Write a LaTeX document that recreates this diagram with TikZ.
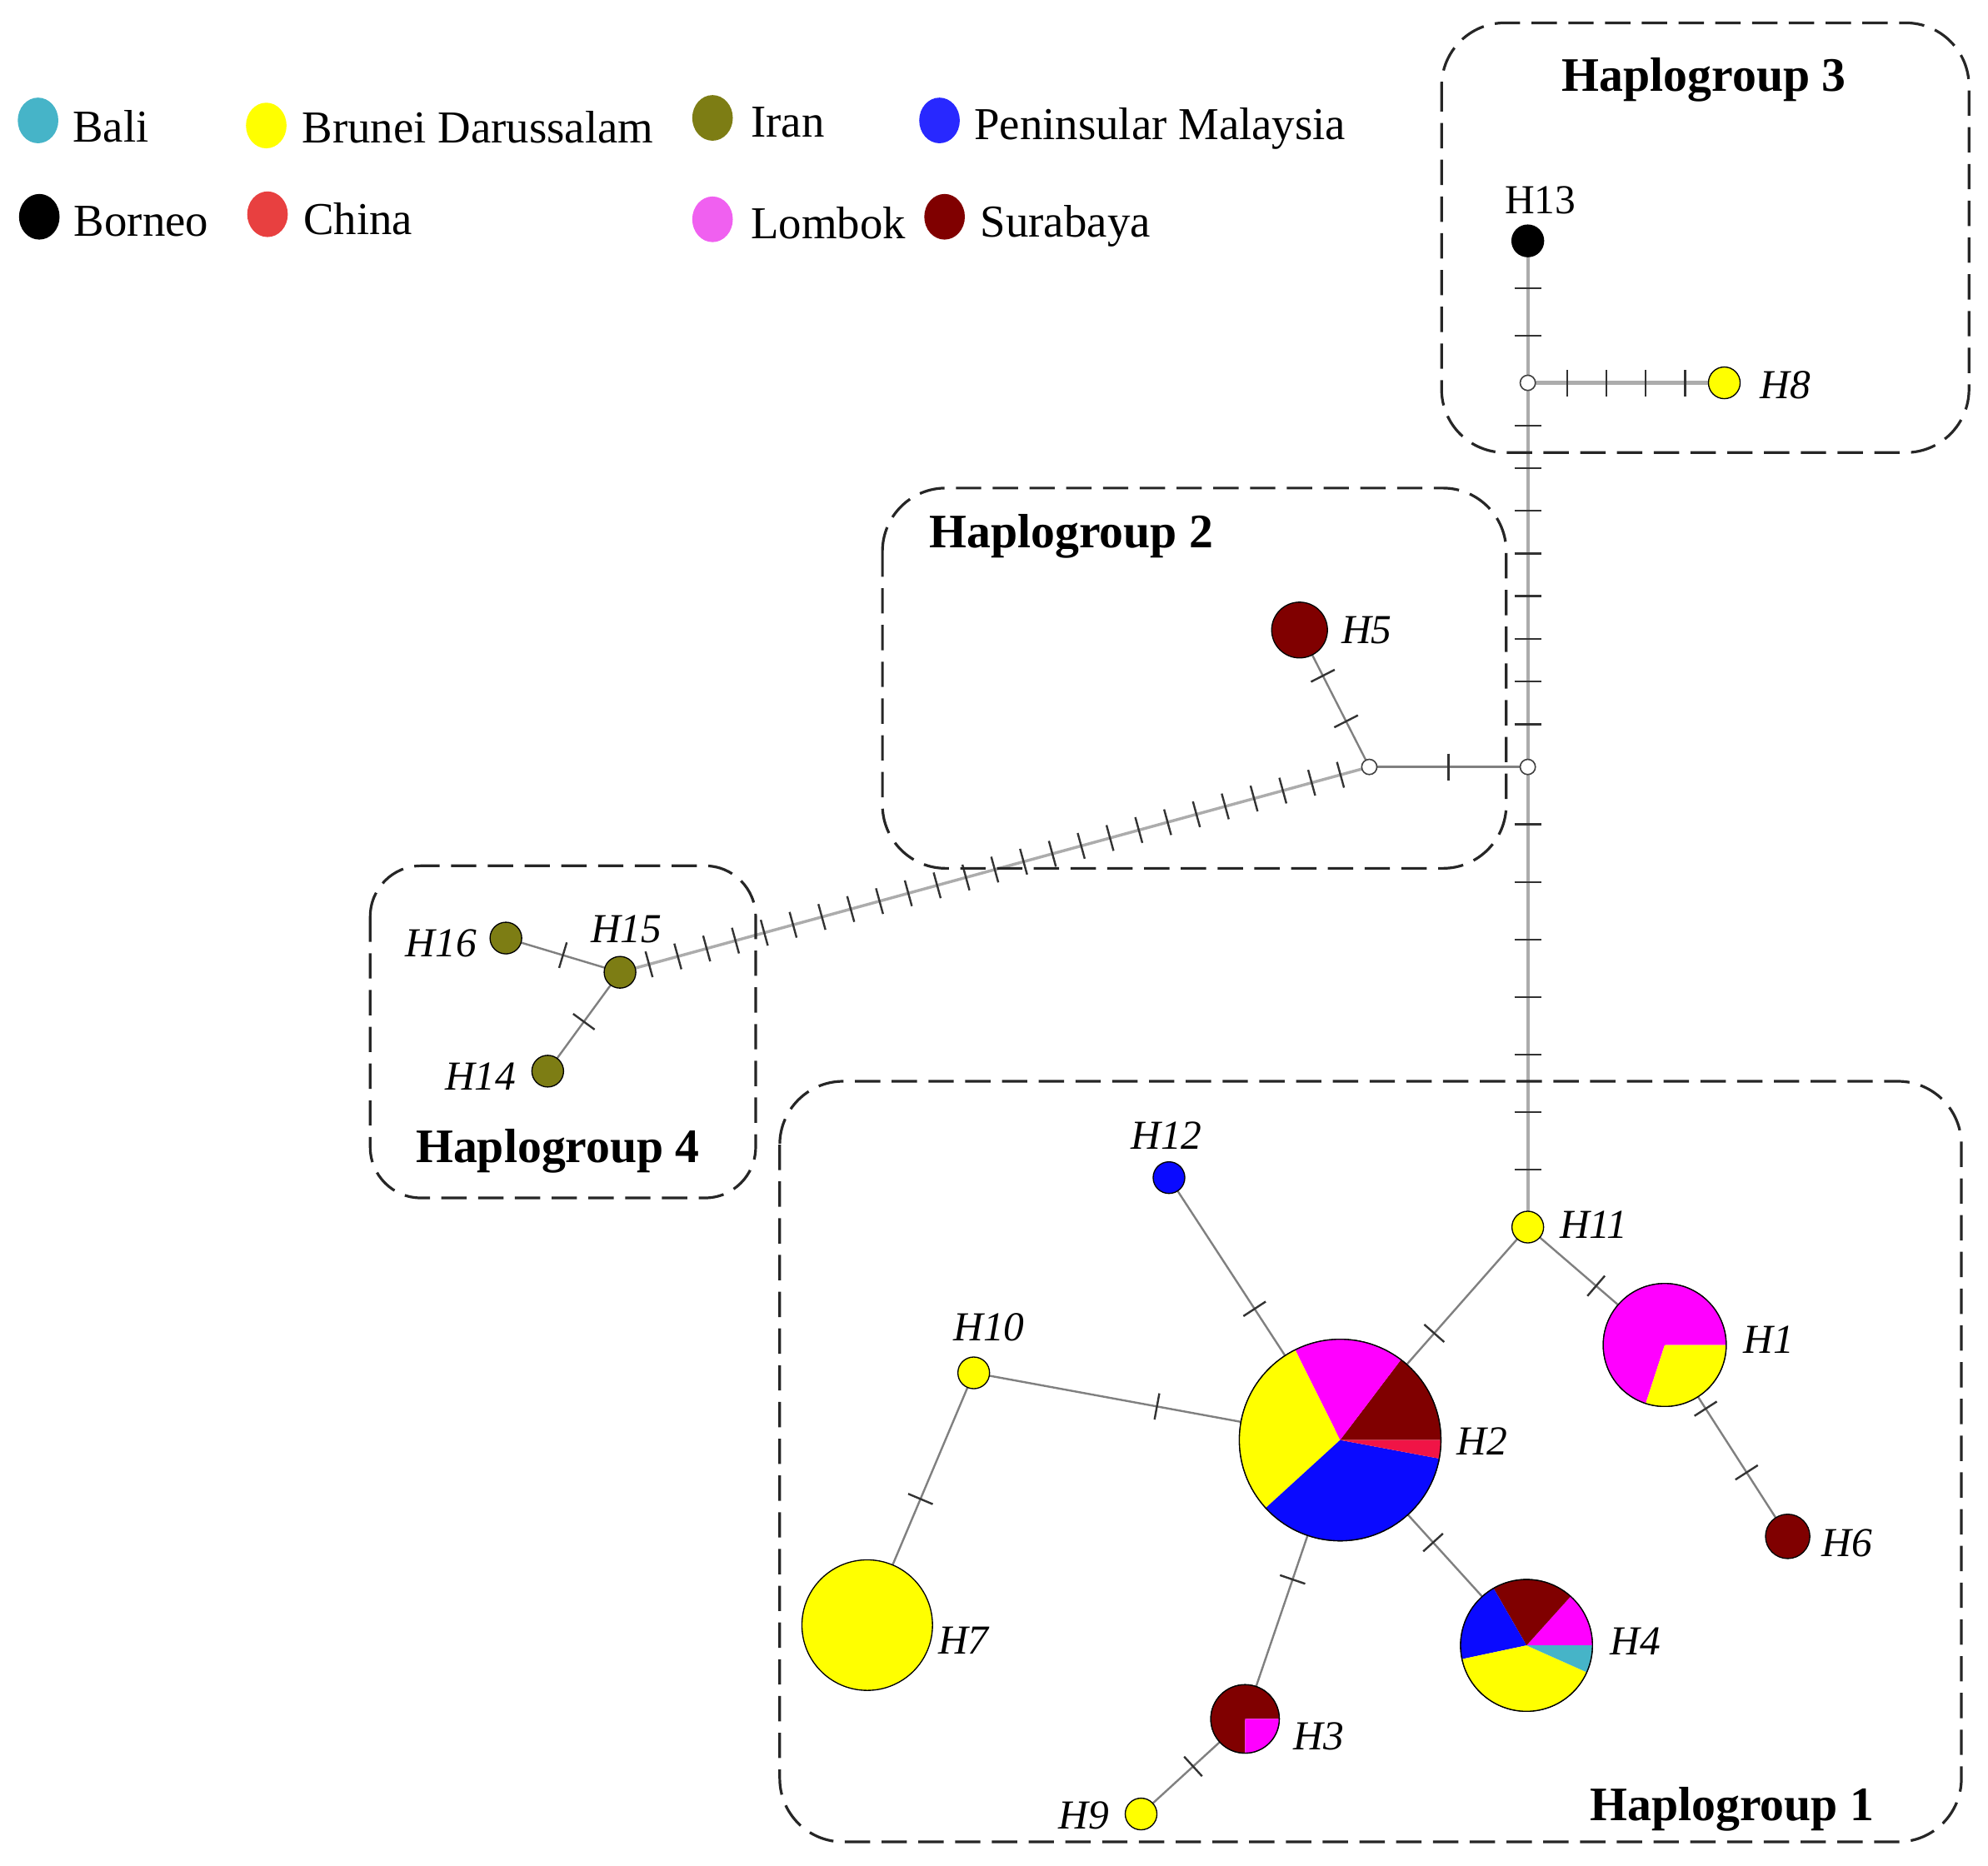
\documentclass[tikz,border=0pt]{standalone}
\usepackage{fontspec}
\setmainfont{Liberation Serif}
\usepackage{tikz}
\usetikzlibrary{decorations.markings,shapes.geometric}

\definecolor{bali}{RGB}{70,180,200}
\definecolor{brunei}{RGB}{255,255,0}
\definecolor{iran}{RGB}{125,125,20}
\definecolor{malaysia}{RGB}{10,10,255}
\definecolor{china}{RGB}{240,20,70}
\definecolor{lombok}{RGB}{255,0,255}
\definecolor{surabaya}{RGB}{128,0,0}
\definecolor{chinakey}{RGB}{232,64,64}
\definecolor{lombokkey}{RGB}{240,96,240}
\definecolor{malaysiakey}{RGB}{40,40,255}

\pgfdeclarelayer{bg}
\pgfsetlayers{bg,main}

\newcommand{\pieslices}[3]{%
  \foreach \a/\b/\col in {#3}{
    \fill[\col] (#1.center) -- ++(\a:#2) arc[start angle=\a, end angle=\b, radius=#2] -- cycle;
  }
  \draw[line width=0.5pt] (#1.center) circle[radius=#2];
}

\begin{document}
\begin{tikzpicture}[x=0.02cm, y=-0.02cm,
    hap/.style={circle, draw=black, line width=0.5pt, inner sep=0pt, minimum size=0.5cm},
    med/.style={circle, draw=black!75, fill=white, line width=0.6pt, inner sep=0pt, minimum size=0.24cm},
    trunk/.style={draw=gray!65, line width=1.6pt},
    link/.style={draw=gray, line width=0.9pt},
    tick/.style={draw=black!80, line width=0.9pt},
    muts/.style={postaction={decorate}, decoration={markings,
        mark=between positions {1/(#1+1)} and {(#1+0.5)/(#1+1)} step {1/(#1+1)}
        with {\draw[tick] (0,-0.21cm) -- (0,0.21cm);}}},
    grpbox/.style={draw=black!85, line width=1.2pt, dash pattern=on 0.4cm off 0.18cm, rounded corners=1cm},
    grp/.style={font=\fontsize{21.6}{26}\selectfont\bfseries, anchor=base, inner sep=0pt},
    lab/.style={font=\fontsize{18.5}{22}\selectfont, inner sep=0pt},
    ilab/.style={font=\fontsize{18.5}{22}\selectfont\itshape, inner sep=0pt},
    dot/.style={ellipse, minimum width=0.64cm, minimum height=0.72cm, inner sep=0pt},
    key/.style={font=\fontsize{20.5}{24}\selectfont, anchor=base west, inner sep=0pt}
  ]
    \useasboundingbox (0,0) rectangle (1568,1472);

    \node[dot, fill=bali] (kBali) at (30,95) {};
    \node[key] (tBali) at (57,112) {Bali};
    \node[dot, fill=brunei] (kBrunei) at (210,99) {};
    \node[key] (tBrunei) at (238,113) {Brunei Darussalam};
    \node[dot, fill=iran] (kIran) at (562,93) {};
    \node[key] (tIran) at (592,108) {Iran};
    \node[dot, fill=malaysiakey] (kMalaysia) at (741,95) {};
    \node[key] (tMalaysia) at (768,110) {Peninsular Malaysia};
    \node[dot, fill=black] (kBorneo) at (31,171) {};
    \node[key] (tBorneo) at (58,186) {Borneo};
    \node[dot, fill=chinakey] (kChina) at (211,169) {};
    \node[key] (tChina) at (239,185) {China};
    \node[dot, fill=lombokkey] (kLombok) at (562,173) {};
    \node[key] (tLombok) at (592,188) {Lombok};
    \node[dot, fill=surabaya] (kSurabaya) at (745,171) {};
    \node[key] (tSurabaya) at (773,187) {Surabaya};

    \draw[grpbox] (1137,18) rectangle (1553,357);
    \draw[grpbox] (696,385) rectangle (1188,685);
    \draw[grpbox, rounded corners=0.8cm] (292,683) rectangle (596,945);
    \draw[grpbox] (615,853) rectangle (1547,1453);
    \node[grp] (G3) at (1344,72) {Haplogroup 3};
    \node[grp] (G2) at (845,432) {Haplogroup 2};
    \node[grp] (G4) at (440,917) {Haplogroup 4};
    \node[grp] (G1) at (1366,1436) {Haplogroup 1};

    \node[med] (M1) at (1205,302) {};
    \node[med] (M2) at (1205,605) {};
    \node[med] (M3) at (1080,605) {};

    \node[hap, fill=black] (H13) at (1205,190) {};
    \node[hap, fill=brunei] (H8) at (1360,302) {};
    \node[hap, fill=surabaya, minimum size=0.88cm] (H5) at (1025,497) {};
    \node[hap, fill=iran] (H15) at (489,767) {};
    \node[hap, fill=iran] (H16) at (399,740) {};
    \node[hap, fill=iran] (H14) at (432,845) {};
    \node[hap, fill=brunei] (H11) at (1205,968) {};
    \node[hap, fill=malaysia] (H12) at (922,929) {};
    \node[hap, fill=brunei] (H10) at (768,1083) {};
    \node[hap, fill=brunei, minimum size=2.06cm] (H7) at (684,1282) {};
    \node[hap, fill=brunei] (H9) at (900,1431) {};
    \node[hap, fill=surabaya, minimum size=0.7cm] (H6) at (1410,1212) {};
    \node[hap, minimum size=3.18cm] (H2) at (1057,1136) {};
    \node[hap, minimum size=2.08cm] (H4) at (1204,1298) {};
    \node[hap, minimum size=1.94cm] (H1) at (1313,1061) {};
    \node[hap, minimum size=1.08cm] (H3) at (982,1356) {};

    \pieslices{H2}{1.59cm}{0/52.9/surabaya, 52.9/116.5/lombok, 116.5/222.4/brunei, 222.4/349.4/malaysia, 349.4/360/china}
    \pieslices{H4}{1.04cm}{0/48/lombok, 48/120/surabaya, 120/192/malaysia, 192/336/brunei, 336/360/bali}
    \pieslices{H1}{0.97cm}{0/252/lombok, 252/360/brunei}
    \pieslices{H3}{0.54cm}{0/270/surabaya, 270/360/lombok}

    \begin{pgfonlayer}{bg}
    \draw[trunk, muts=2] (H13.center) -- (M1.center);
    \draw[trunk, muts=4] (M1.center) -- (H8.center);
    \draw[trunk, muts=8] (M1.center) -- (M2.center);
    \draw[trunk, muts=7] (M2.center) -- (H11.center);
    \draw[link, muts=1] (M2.center) -- (M3.center);
    \draw[link, muts=2] (M3.center) -- (H5.center);
    \draw[trunk, line width=1.3pt, muts=25] (M3.center) -- (H15.center);
    \draw[link, muts=1] (H15.center) -- (H16.center);
    \draw[link, muts=1] (H15.center) -- (H14.center);
    \draw[link, muts=1] (H11.center) -- (H2.center);
    \draw[link, muts=1] (H11.center) -- (H1.center);
    \draw[link, muts=2] (H1.center) -- (H6.center);
    \draw[link, muts=1] (H2.center) -- (H12.center);
    \draw[link, muts=1] (H2.center) -- (H10.center);
    \draw[link, muts=1] (H10.center) -- (H7.center);
    \draw[link, muts=1] (H2.center) -- (H4.center);
    \draw[link, muts=1] (H2.center) -- (H3.center);
    \draw[link, muts=1] (H3.center) -- (H9.center);
    \end{pgfonlayer}

    \node[lab] (L13) at (1215,158) {H13};
    \node[ilab] (L8) at (1408,304) {H8};
    \node[ilab] (L5) at (1078,497) {H5};
    \node[ilab] (L15) at (494,733) {H15};
    \node[ilab] (L16) at (348,744) {H16};
    \node[ilab] (L14) at (379,849) {H14};
    \node[ilab] (L12) at (920,896) {H12};
    \node[ilab] (L11) at (1257,966) {H11};
    \node[ilab] (L10) at (780,1047) {H10};
    \node[ilab] (L1) at (1395,1057) {H1};
    \node[ilab] (L2) at (1169,1137) {H2};
    \node[ilab] (L6) at (1457,1217) {H6};
    \node[ilab] (L7) at (760,1294) {H7};
    \node[ilab] (L4) at (1290,1295) {H4};
    \node[ilab] (L3) at (1040,1370) {H3};
    \node[ilab] (L9) at (855,1432) {H9};
\end{tikzpicture}
\end{document}
